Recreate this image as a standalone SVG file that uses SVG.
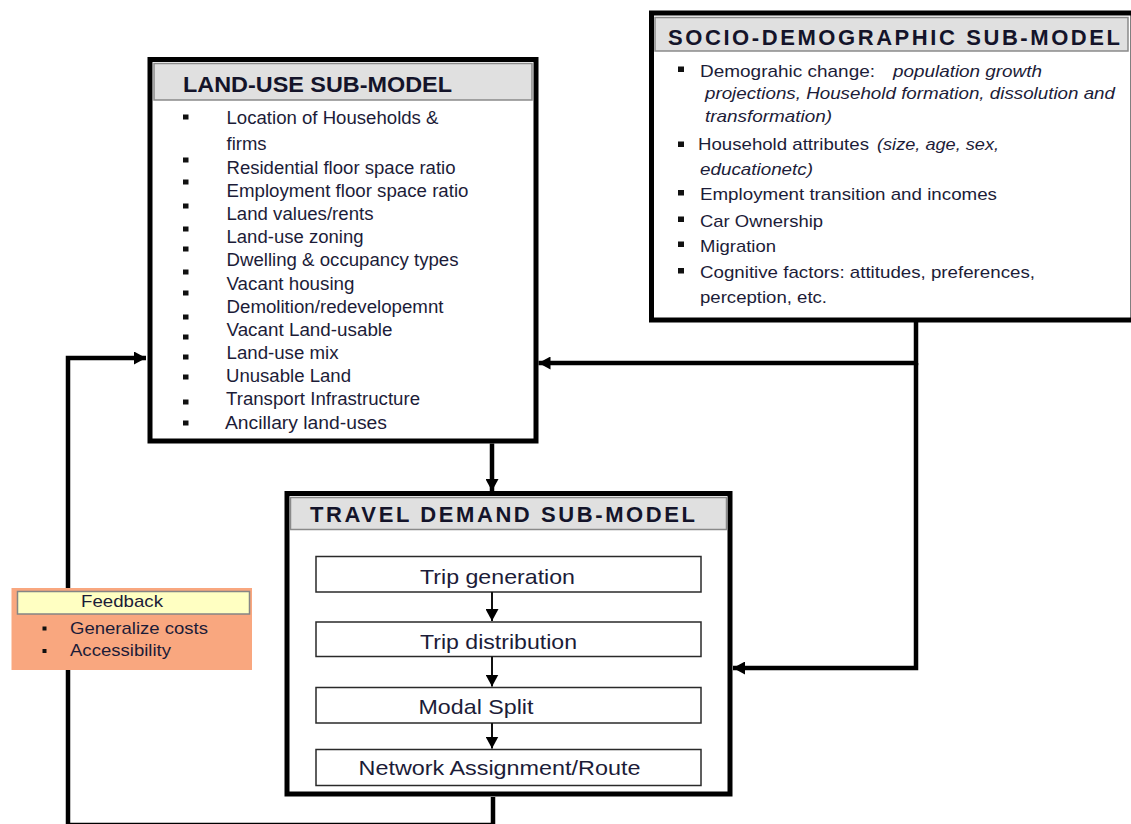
<svg xmlns="http://www.w3.org/2000/svg" width="1131" height="824" viewBox="0 0 1131 824">
  <style>
    text { font-family: "Liberation Sans", Arial, sans-serif; fill: #1c1c38; }
    .title { font-weight: bold; font-size: 22px; fill: #14142a; }
    .item { font-size: 17.5px; }
    .sitem { font-size: 17px; }
    .it { font-style: italic; }
    .step { font-size: 21px; }
    .fb { font-size: 17px; }
    .frame { fill: #ffffff; stroke: #000000; stroke-width: 5; }
    .header { fill: #e0e0e0; stroke: #8a8a8a; stroke-width: 1.5; }
    .stepbox { fill: #ffffff; stroke: #2a2a2a; stroke-width: 1.5; }
    .sq { fill: #111111; }
    .wire { fill: none; stroke: #000000; stroke-width: 4.5; }
    .thin { fill: none; stroke: #111111; stroke-width: 2; }
  </style>
  <defs>
    <marker id="arrow" markerUnits="userSpaceOnUse" markerWidth="12" markerHeight="13" refX="12" refY="6.5" orient="auto">
      <path d="M0,0 L12,6.5 L0,13 z" fill="#000000"/>
    </marker>
  </defs>

  <rect width="1131" height="824" fill="#ffffff"/>

  <!-- connectors between the sub-models -->
  <g id="connectors">
    <path class="wire" d="M493,797 V825 H68 V358 H146" stroke-width="4" marker-end="url(#arrow)"/>
    <path class="wire" d="M916,322 V363 H538.5" marker-end="url(#arrow)"/>
    <path class="wire" d="M916,363 V668 H733" stroke-width="4" marker-end="url(#arrow)"/>
    <path class="wire" d="M492,443.5 V491" stroke-width="5" marker-end="url(#arrow)"/>
  </g>

  <!-- land-use sub-model -->
  <g id="land-use">
    <rect class="frame" x="150" y="59.5" width="386" height="381.5"/>
    <rect class="header" x="154" y="63.5" width="378" height="36.5"/>
    <text class="title" x="183" y="92" textLength="269" lengthAdjust="spacingAndGlyphs">LAND-USE SUB-MODEL</text>
    <g>
      <rect class="sq" x="183" y="114.5" width="5.5" height="5"/>
      <rect class="sq" x="183" y="157.5" width="5.5" height="5"/>
      <rect class="sq" x="183" y="179.5" width="5.5" height="5"/>
      <rect class="sq" x="183" y="203.5" width="5.5" height="5"/>
      <rect class="sq" x="183" y="226.5" width="5.5" height="5"/>
      <rect class="sq" x="183" y="246.5" width="5.5" height="5"/>
      <rect class="sq" x="183" y="269.5" width="5.5" height="5"/>
      <rect class="sq" x="183" y="290.5" width="5.5" height="5"/>
      <rect class="sq" x="183" y="314.5" width="5.5" height="5"/>
      <rect class="sq" x="183" y="334.5" width="5.5" height="5"/>
      <rect class="sq" x="183" y="354.5" width="5.5" height="5"/>
      <rect class="sq" x="183" y="374.5" width="5.5" height="5"/>
      <rect class="sq" x="183" y="399.5" width="5.5" height="5"/>
      <rect class="sq" x="183" y="420.5" width="5.5" height="5"/>
    </g>
    <text class="item" x="226.5" y="124" textLength="212" lengthAdjust="spacingAndGlyphs">Location of Households &amp;</text>
    <text class="item" x="226.5" y="150" textLength="40" lengthAdjust="spacingAndGlyphs">firms</text>
    <text class="item" x="226.5" y="173.5" textLength="229" lengthAdjust="spacingAndGlyphs">Residential floor space ratio</text>
    <text class="item" x="226.5" y="196.5" textLength="242" lengthAdjust="spacingAndGlyphs">Employment floor space ratio</text>
    <text class="item" x="226.5" y="220" textLength="147" lengthAdjust="spacingAndGlyphs">Land values/rents</text>
    <text class="item" x="226.5" y="243" textLength="137" lengthAdjust="spacingAndGlyphs">Land-use zoning</text>
    <text class="item" x="226.5" y="265.5" textLength="232" lengthAdjust="spacingAndGlyphs">Dwelling &amp; occupancy types</text>
    <text class="item" x="226.5" y="290" textLength="128" lengthAdjust="spacingAndGlyphs">Vacant housing</text>
    <text class="item" x="226.5" y="312.5" textLength="217" lengthAdjust="spacingAndGlyphs">Demolition/redevelopemnt</text>
    <text class="item" x="226.5" y="335.5" textLength="166" lengthAdjust="spacingAndGlyphs">Vacant Land-usable</text>
    <text class="item" x="226.5" y="358.5" textLength="112" lengthAdjust="spacingAndGlyphs">Land-use mix</text>
    <text class="item" x="226" y="381.5" textLength="125" lengthAdjust="spacingAndGlyphs">Unusable Land</text>
    <text class="item" x="226" y="405" textLength="194" lengthAdjust="spacingAndGlyphs">Transport Infrastructure</text>
    <text class="item" x="225" y="428.5" textLength="162" lengthAdjust="spacingAndGlyphs">Ancillary  land-uses</text>
  </g>

  <!-- socio-demographic sub-model -->
  <g id="socio-demographic">
    <rect class="frame" x="651.5" y="13" width="481.5" height="307"/>
    <rect class="header" x="655" y="17.5" width="473" height="33.5"/>
    <text class="title" x="668" y="45" textLength="452" lengthAdjust="spacing">SOCIO-DEMOGRAPHIC SUB-MODEL</text>
    <rect class="sq" x="678" y="66.5" width="6" height="5.5"/>
    <rect class="sq" x="678" y="141.5" width="6" height="5.5"/>
    <rect class="sq" x="678" y="190" width="6" height="5.5"/>
    <rect class="sq" x="678" y="216.5" width="6" height="5.5"/>
    <rect class="sq" x="678" y="241.5" width="6" height="5.5"/>
    <rect class="sq" x="678" y="268" width="6" height="5.5"/>
    <text class="sitem" x="700" y="76.5" textLength="175" lengthAdjust="spacingAndGlyphs">Demograhic change:</text>
    <text class="sitem it" x="893" y="76.5" textLength="149" lengthAdjust="spacingAndGlyphs">population growth</text>
    <text class="sitem it" x="705" y="98.5" textLength="410" lengthAdjust="spacingAndGlyphs">projections, Household formation, dissolution and</text>
    <text class="sitem it" x="705" y="121.5" textLength="127" lengthAdjust="spacingAndGlyphs">transformation)</text>
    <text class="sitem" x="698" y="150" textLength="171" lengthAdjust="spacingAndGlyphs">Household attributes</text>
    <text class="sitem it" x="877" y="150" textLength="122" lengthAdjust="spacingAndGlyphs">(size, age, sex,</text>
    <text class="sitem it" x="700" y="175" textLength="113" lengthAdjust="spacingAndGlyphs">educationetc)</text>
    <text class="sitem" x="700" y="200" textLength="297" lengthAdjust="spacingAndGlyphs">Employment transition and incomes</text>
    <text class="sitem" x="700" y="226.5" textLength="123" lengthAdjust="spacingAndGlyphs">Car Ownership</text>
    <text class="sitem" x="700" y="251.5" textLength="76" lengthAdjust="spacingAndGlyphs">Migration</text>
    <text class="sitem" x="700" y="278" textLength="335" lengthAdjust="spacingAndGlyphs">Cognitive factors: attitudes, preferences,</text>
    <text class="sitem" x="700" y="303" textLength="127" lengthAdjust="spacingAndGlyphs">perception, etc.</text>
  </g>

  <!-- travel demand sub-model with its four steps -->
  <g id="travel-demand">
    <rect class="frame" x="287" y="493.5" width="443" height="300.5" stroke-width="5.5"/>
    <rect class="header" x="290.5" y="497.5" width="436" height="32"/>
    <text class="title" x="310" y="522" textLength="385" lengthAdjust="spacing">TRAVEL DEMAND SUB-MODEL</text>
    <g id="trip-generation">
      <rect class="stepbox" x="316" y="556.5" width="385" height="35.5"/>
      <text class="step" x="420" y="583.5" textLength="155" lengthAdjust="spacingAndGlyphs">Trip generation</text>
    </g>
    <g id="trip-distribution">
      <rect class="stepbox" x="316" y="622" width="385" height="34.5"/>
      <text class="step" x="420" y="648.5" textLength="157" lengthAdjust="spacingAndGlyphs">Trip distribution</text>
    </g>
    <g id="modal-split">
      <rect class="stepbox" x="316" y="687.5" width="385" height="35.5"/>
      <text class="step" x="418.5" y="713.5" textLength="115" lengthAdjust="spacingAndGlyphs">Modal Split</text>
    </g>
    <g id="network-assignment">
      <rect class="stepbox" x="316" y="749.5" width="385" height="36"/>
      <text class="step" x="358.5" y="775" textLength="282" lengthAdjust="spacingAndGlyphs">Network Assignment/Route</text>
    </g>
    <g id="step-links">
      <path class="thin" d="M492,592 V621" marker-end="url(#arrow)"/>
      <path class="thin" d="M492,656.5 V686.5" marker-end="url(#arrow)"/>
      <path class="thin" d="M492,723 V748.5" marker-end="url(#arrow)"/>
    </g>
  </g>

  <!-- feedback note on the return loop -->
  <g id="feedback">
    <rect x="11.5" y="588" width="240.5" height="82" fill="#f9a77f"/>
    <rect x="17.5" y="591.5" width="232" height="22.5" fill="#ffffc2" stroke="#858585" stroke-width="1.5"/>
    <text class="fb" x="81" y="607" textLength="82" lengthAdjust="spacingAndGlyphs">Feedback</text>
    <rect class="sq" x="42.5" y="626.5" width="4" height="4"/>
    <rect class="sq" x="42.5" y="649" width="4" height="4"/>
    <text class="fb" x="70" y="634" textLength="138" lengthAdjust="spacingAndGlyphs">Generalize costs</text>
    <text class="fb" x="70" y="656" textLength="101" lengthAdjust="spacingAndGlyphs">Accessibility</text>
  </g>
</svg>
